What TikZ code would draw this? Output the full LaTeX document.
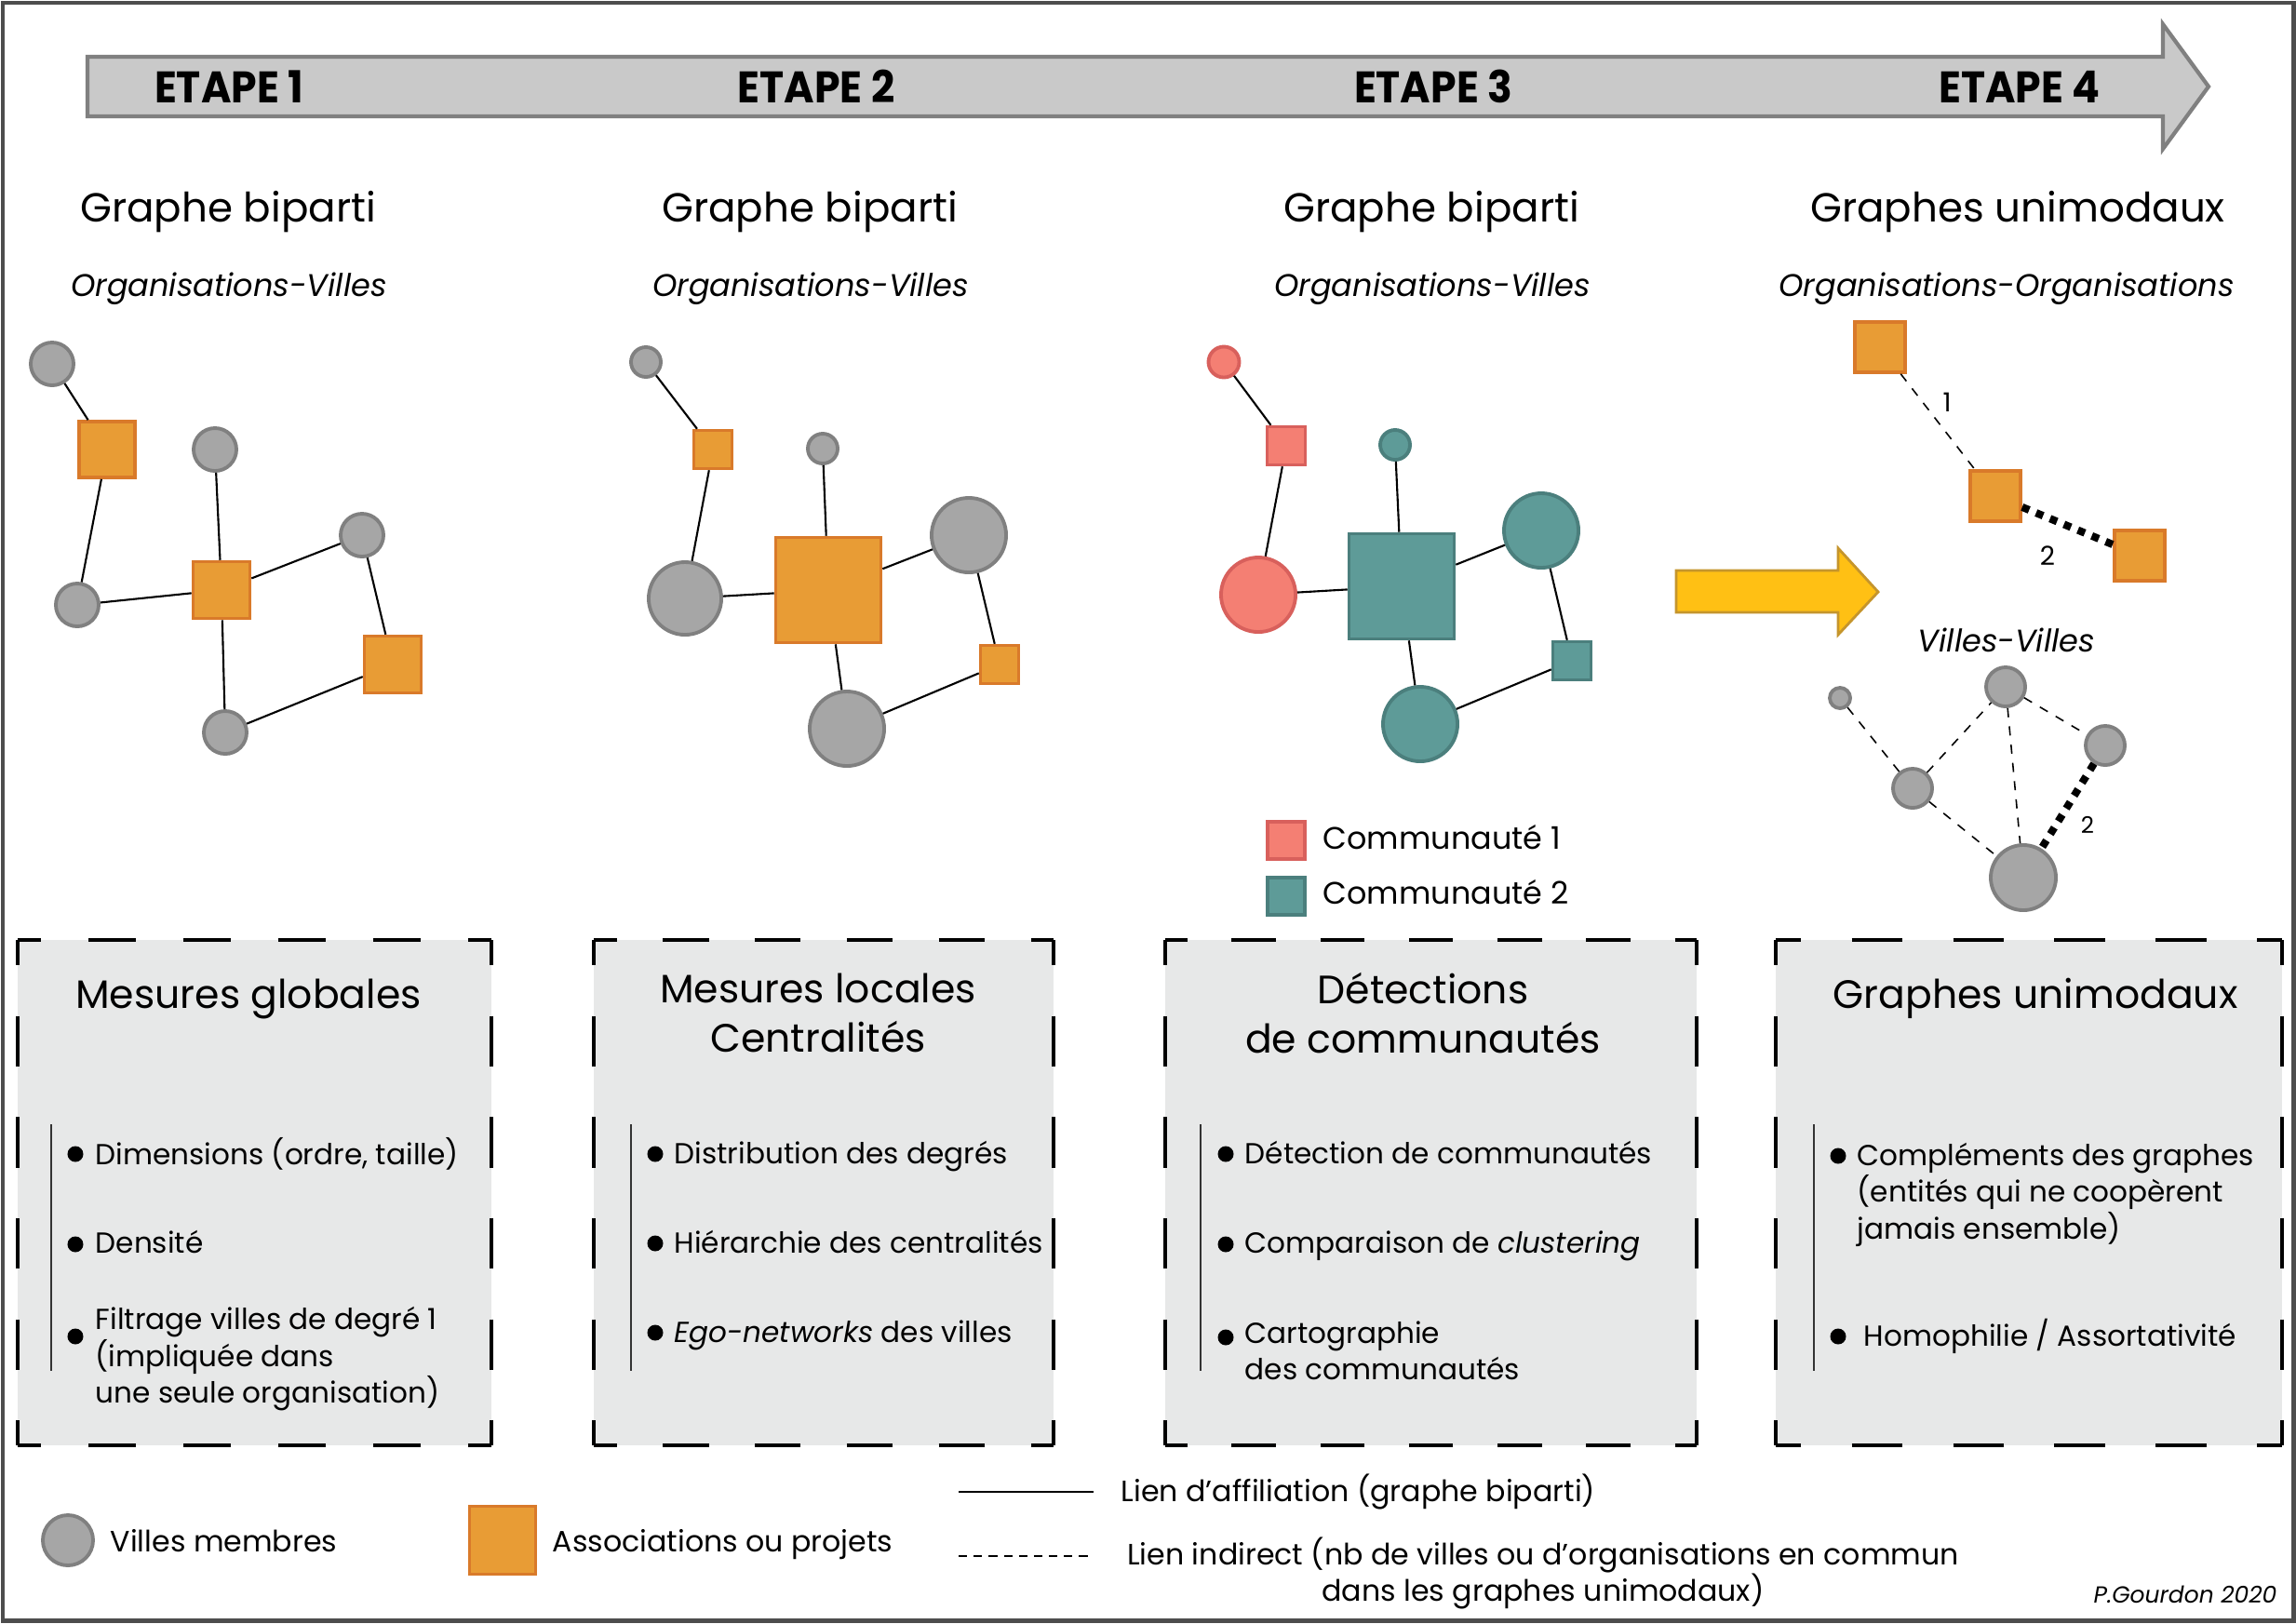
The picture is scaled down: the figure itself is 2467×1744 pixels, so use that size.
\documentclass[tikz,border=0pt]{standalone}
\usepackage{fontspec}
\setmainfont{Poppins}
\newfontfamily\stepfont{Poppins}[FakeStretch=0.93]
\usetikzlibrary{arrows.meta}
\definecolor{greyfill}{HTML}{A6A6A6}
\definecolor{greyline}{HTML}{808080}
\definecolor{orangefill}{HTML}{E89C35}
\definecolor{orangeline}{HTML}{D97A2A}
\definecolor{redfill}{HTML}{F47F73}
\definecolor{redline}{HTML}{D8605C}
\definecolor{tealfill}{HTML}{5E9B98}
\definecolor{tealline}{HTML}{4B7F7D}
\definecolor{boxfill}{HTML}{E7E8E8}
\definecolor{bandfill}{HTML}{C9C9C9}
\definecolor{bandline}{HTML}{808080}
\definecolor{arrowfill}{HTML}{FFC014}
\definecolor{arrowline}{HTML}{C5952C}
\definecolor{frameline}{HTML}{4D4D4D}
\tikzset{
  every node/.append style={text=black},
  city/.style 2 args={circle, draw=#1line, fill=#1fill, line width=1.1pt, inner sep=0pt, minimum size=#2},
  org/.style 2 args={rectangle, draw=#1line, fill=#1fill, line width=1pt, inner sep=0pt, minimum size=#2},
  affil/.style={draw=black, line width=0.6pt},
  indirect/.style={draw=black, line width=0.45pt, dash pattern=on 2.8pt off 2.8pt},
  strong/.style={draw=black, line width=2.3pt, dash pattern=on 2.3pt off 2.3pt},
  steplabel/.style={font=\stepfont\bfseries\fontsize{13.5}{15}\selectfont, anchor=base, inner sep=0pt},
  heading/.style={font=\fontsize{12.4}{15}\selectfont, anchor=base, inner sep=0pt},
  subheading/.style={font=\fontsize{9.55}{12}\selectfont\itshape, anchor=base, inner sep=0pt},
  boxtitle/.style={font=\fontsize{12.1}{15}\selectfont, align=center, anchor=base, inner sep=0pt},
  boxframe/.style={draw=black, line width=1.15pt},
  boxrule/.style={draw=black!80, line width=0.55pt},
  item/.style={font=\fontsize{8.85}{11.1}\selectfont, align=left, anchor=base west, inner sep=0pt},
  bulletdot/.style={circle, fill=black, inner sep=0pt, minimum size=0.17cm},
  legtext/.style={font=\fontsize{9}{11.1}\selectfont, anchor=base west, inner sep=0pt},
  comtext/.style={font=\fontsize{9.5}{11.1}\selectfont, anchor=base west, inner sep=0pt},
  numlabel/.style={font=\fontsize{8}{9}\selectfont, inner sep=0pt},
}

\begin{document}
\begin{tikzpicture}[x=0.01cm, y=-0.01cm]
  \useasboundingbox (0,0) rectangle (2467,1744);
  \fill[white] (0,0) rectangle (2467,1744);
  \draw[frameline, line width=1.4pt] (3,3) rectangle (2464,1741);

  % ETAPE band
  \draw[bandline, fill=bandfill, line width=1.2pt]
    (94,61) -- (2324,61) -- (2324,26) -- (2373,93) -- (2324,160) -- (2324,125) -- (94,125) -- cycle;
  \foreach \i/\xx in {1/246, 2/877, 3/1540, 4/2170}
    \node[steplabel] (etape\i) at (\xx,110) {ETAPE \i};

  % headings
  \node[heading] (head1) at (245,238) {Graphe biparti};
  \node[heading] (head2) at (870,238) {Graphe biparti};
  \node[heading] (head3) at (1538,238) {Graphe biparti};
  \node[heading] (head4) at (2168,238) {Graphes unimodaux};
  \node[subheading] (sub1) at (246,318) {Organisations-Villes};
  \node[subheading] (sub2) at (871,318) {Organisations-Villes};
  \node[subheading] (sub3) at (1539,318) {Organisations-Villes};
  \node[subheading] (sub4) at (2156,318) {Organisations-Organisations};

  % ETAPE 1 graph
  \node[city={grey}{0.46cm}] (a1) at (56,391) {};
  \node[city={grey}{0.46cm}] (a2) at (231,483) {};
  \node[city={grey}{0.46cm}] (a3) at (83,650) {};
  \node[city={grey}{0.46cm}] (a4) at (389,575) {};
  \node[city={grey}{0.46cm}] (a5) at (242,787) {};
  \node[org={orange}{0.60cm}] (o1) at (115,483) {};
  \node[org={orange}{0.61cm}] (o2) at (238,634) {};
  \node[org={orange}{0.61cm}] (o3) at (422,714) {};
  \foreach \u/\v in {a1/o1, o1/a3, a3/o2, a2/o2, o2/a4, o2/a5, a4/o3, o3/a5}
    \draw[affil] (\u) -- (\v);

  % ETAPE 2 graph
  \node[city={grey}{0.32cm}] (b1) at (694,389) {};
  \node[city={grey}{0.32cm}] (b2) at (884,482) {};
  \node[city={grey}{0.78cm}] (b3) at (736,643) {};
  \node[city={grey}{0.80cm}] (b4) at (1041,575) {};
  \node[city={grey}{0.80cm}] (b5) at (910,783) {};
  \node[org={orange}{0.41cm}] (p1) at (766,483) {};
  \node[org={orange}{1.13cm}] (p2) at (890,634) {};
  \node[org={orange}{0.41cm}] (p3) at (1074,714) {};
  \foreach \u/\v in {b1/p1, p1/b3, b3/p2, b2/p2, p2/b4, p2/b5, b4/p3, p3/b5}
    \draw[affil] (\u) -- (\v);

  % ETAPE 3 graph
  \node[city={red}{0.33cm}] (c1) at (1315,389) {};
  \node[city={teal}{0.32cm}] (c2) at (1499,478) {};
  \node[city={red}{0.80cm}] (c3) at (1352,639) {};
  \node[city={teal}{0.80cm}] (c4) at (1656,570) {};
  \node[city={teal}{0.80cm}] (c5) at (1526,778) {};
  \node[org={red}{0.41cm}] (q1) at (1382,479) {};
  \node[org={teal}{1.13cm}] (q2) at (1506,630) {};
  \node[org={teal}{0.41cm}] (q3) at (1689,710) {};
  \foreach \u/\v in {c1/q1, q1/c3, c3/q2, c2/q2, q2/c4, q2/c5, c4/q3, q3/c5}
    \draw[affil] (\u) -- (\v);

  \node[org={red}{0.40cm}, line width=0.9pt] (com1) at (1382,903) {};
  \node[org={teal}{0.40cm}, line width=0.9pt] (com2) at (1382,963) {};
  \node[comtext] (com1t) at (1421,912) {Communauté 1};
  \node[comtext] (com2t) at (1421,971) {Communauté 2};

  % arrow to ETAPE 4
  \draw[arrowline, fill=arrowfill, line width=0.8pt]
    (1801,613) -- (1975,613) -- (1975,589) -- (2018,636) -- (1975,682) -- (1975,658) -- (1801,658) -- cycle;

  % ETAPE 4 graphs
  \node[org={orange}{0.54cm}] (u1) at (2020,373) {};
  \node[org={orange}{0.54cm}] (u2) at (2144,533) {};
  \node[org={orange}{0.54cm}] (u3) at (2299,597) {};
  \draw[indirect] (u1) -- (u2);
  \draw[strong] (u2) -- (u3);
  \node[numlabel] (n1) at (2092,432) {1};
  \node[numlabel] (n2) at (2200,597) {2};

  \node[subheading] (sub5) at (2156,700) {Villes-Villes};
  \node[city={grey}{0.22cm}] (w1) at (1977,750) {};
  \node[city={grey}{0.42cm}] (w2) at (2155,738) {};
  \node[city={grey}{0.42cm}] (w3) at (2262,801) {};
  \node[city={grey}{0.42cm}] (w4) at (2055,847) {};
  \node[city={grey}{0.70cm}] (w5) at (2174,943) {};
  \foreach \u/\v in {w1/w4, w4/w2, w2/w3, w2/w5, w4/w5}
    \draw[indirect] (\u) -- (\v);
  \draw[strong] (w3) -- (w5);
  \node[numlabel, font=\fontsize{7}{8}\selectfont] (n3) at (2243,886) {2};

  % boxes
  \foreach \xa/\xb/\n in {19/528/5, 638/1132/5, 1252/1823/6, 1908/2452/5} {
    \fill[boxfill] (\xa,1010) rectangle (\xb,1553);
    \pgfmathsetmacro{\dh}{(\xb-\xa)/\n/200}
    \pgfmathsetmacro{\dq}{\dh/2}
    \draw[boxframe, dash pattern=on \dh cm off \dh cm, dash phase=\dq cm]
      (\xa,1010) -- (\xb,1010) (\xa,1553) -- (\xb,1553);
    \draw[boxframe, dash pattern=on 0.543cm off 0.543cm, dash phase=0.2715cm]
      (\xa,1010) -- (\xa,1553) (\xb,1010) -- (\xb,1553);
  }
  \foreach \xx in {55, 678, 1290, 1949}
    \draw[boxrule] (\xx,1208) -- (\xx,1473);

  % titles: base is the last line
  \node[boxtitle] (t1) at (267,1083) {Mesures globales};
  \node[boxtitle] (t2) at (879,1130) {Mesures locales\\Centralités};
  \node[boxtitle] (t3) at (1529,1131) {Détections\\de communautés};
  \node[boxtitle] (t4) at (2187,1083) {Graphes unimodaux};

  % box 1
  \node[bulletdot] (d11) at (81,1240) {};
  \node[bulletdot] (d12) at (81,1337) {};
  \node[bulletdot] (d13) at (81,1436) {};
  \node[item] (i11) at (102,1251) {Dimensions (ordre, taille)};
  \node[item] (i12) at (102,1346) {Densité};
  \node[item] (i13) at (102,1507) {Filtrage villes de degré 1\\(impliquée dans\\une seule organisation)};

  % box 2
  \node[bulletdot] (d21) at (704,1240) {};
  \node[bulletdot] (d22) at (704,1336) {};
  \node[bulletdot] (d23) at (704,1432) {};
  \node[item] (i21) at (724,1250) {Distribution des degrés};
  \node[item] (i22) at (724,1346) {Hiérarchie des centralités};
  \node[item] (i23) at (724,1442) {\textit{Ego-networks} des villes};

  % box 3
  \node[bulletdot] (d31) at (1317,1240) {};
  \node[bulletdot] (d32) at (1317,1337) {};
  \node[bulletdot] (d33) at (1317,1437) {};
  \node[item] (i31) at (1337,1250) {Détection de communautés};
  \node[item] (i32) at (1337,1346) {Comparaison de \textit{clustering}};
  \node[item] (i33) at (1337,1482) {Cartographie\\des communautés};

  % box 4
  \node[bulletdot] (d41) at (1975,1242) {};
  \node[bulletdot] (d42) at (1975,1436) {};
  \node[item] (i41) at (1995,1331) {Compléments des graphes\\(entités qui ne coopèrent\\jamais ensemble)};
  \node[item] (i42) at (2002,1446) {Homophilie / Assortativité};

  % legend
  \node[city={grey}{0.54cm}] (lville) at (73,1655) {};
  \node[legtext] (lvillet) at (118,1667) {Villes membres};
  \node[org={orange}{0.71cm}, minimum height=0.73cm] (lorga) at (540,1655) {};
  \node[legtext] (lorgat) at (593,1667) {Associations ou projets};

  \coordinate (laffa) at (1030,1603);
  \coordinate (laffb) at (1175,1603);
  \draw[affil] (laffa) -- (laffb);
  \node[legtext] (lafft) at (1204,1613) {Lien d’affiliation (graphe biparti)};
  \coordinate (linda) at (1030,1672);
  \coordinate (lindb) at (1172,1672);
  \draw[indirect, dash pattern=on 2.6pt off 2pt] (linda) -- (lindb);
  \node[legtext, anchor=base, align=center] (lindt) at (1658,1720) {Lien indirect (nb de villes ou d’organisations en commun\\dans les graphes unimodaux)};
  \node[font=\fontsize{7.1}{8}\selectfont\itshape, anchor=base east, inner sep=0pt] (sign) at (2447,1722) {P.Gourdon 2020};
\end{tikzpicture}
\end{document}
